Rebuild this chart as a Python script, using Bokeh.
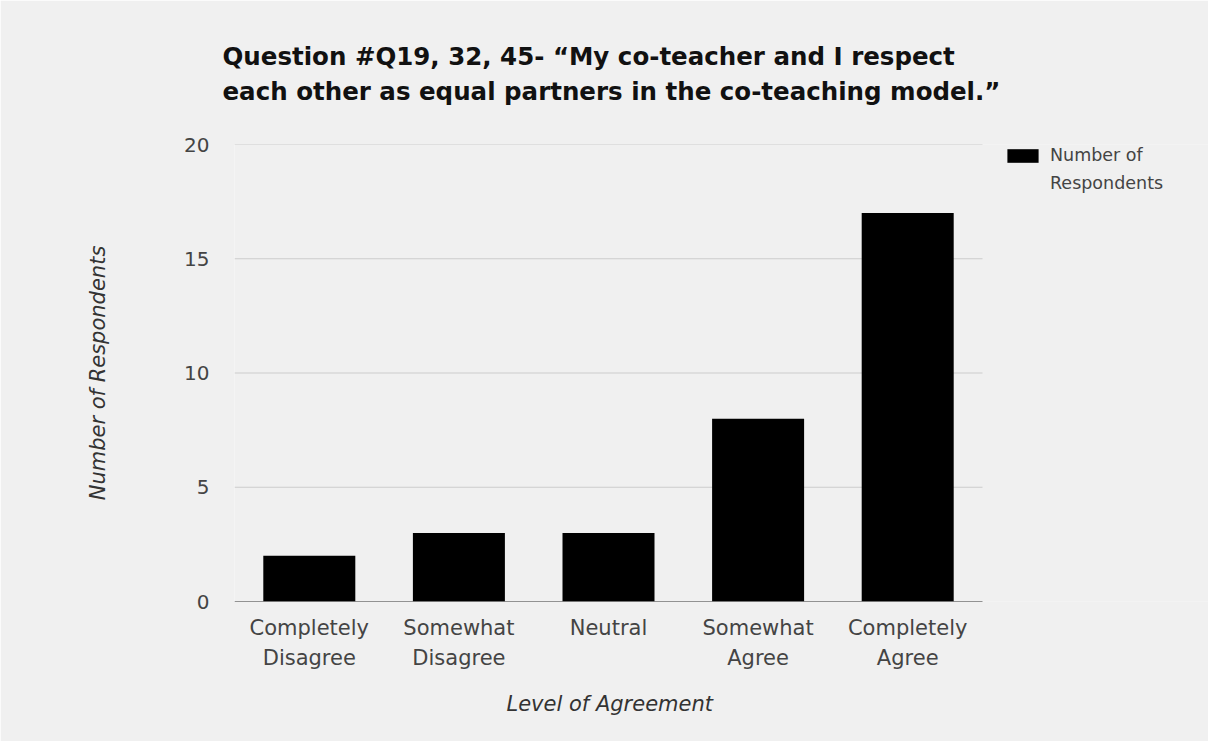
from bokeh.plotting import figure
from bokeh.models import Range1d, Title, Legend, LegendItem, FixedTicker
from bokeh.embed import file_html
from bokeh.resources import INLINE

categories = ["Completely\nDisagree", "Somewhat\nDisagree", "Neutral", "Somewhat\nAgree", "Completely\nAgree"]
respondents = [2, 3, 3, 8, 17]
y_ticks = [0, 5, 10, 15, 20]
title_text = ("Question #Q19, 32, 45- \u201cMy co-teacher and I respect\n"
              "each other as equal partners in the co-teaching model.\u201d")
x_title = "Level of Agreement"
y_title = "Number of Respondents"
series_name_lines = ["Number of", "Respondents"]

BG = "#f0f0f0"
FONT = "DejaVu Sans"

W, H = 1208, 741
LEFT, TOP, BOTTOM = 234, 144, 140
PLOT_W = 748  # width of the category area in pixels
n = len(categories)
x_end = n * (W - LEFT) / PLOT_W  # extend the x range so the legend fits inside the frame
xs = [i + 0.5 for i in range(n)]

p = figure(width=W, height=H, x_range=Range1d(0, x_end), y_range=Range1d(0, 20),
           output_backend="svg", toolbar_location=None,
           min_border_left=LEFT, min_border_right=0, min_border_top=TOP, min_border_bottom=BOTTOM)
p.background_fill_color = BG
p.border_fill_color = BG
p.outline_line_color = None

# gridlines and baseline span only the category area
p.segment(x0=[0] * len(y_ticks[1:]), x1=[n] * len(y_ticks[1:]), y0=y_ticks[1:], y1=y_ticks[1:],
          line_color="#cccccc", line_width=1)
r = p.vbar(x=xs, top=respondents, width=0.615, fill_color="#000000", line_color=None)
p.segment(x0=[0], x1=[n], y0=[y_ticks[0]], y1=[y_ticks[0]], line_color="#333333", line_width=1)
# empty renderer used only to carry the second line of the legend label
r_blank = p.vbar(x=[], top=[], width=0.615, fill_alpha=0, line_alpha=0)

p.xgrid.grid_line_color = None
p.ygrid.grid_line_color = None

p.yaxis.ticker = FixedTicker(ticks=y_ticks)
p.yaxis.axis_line_color = None
p.yaxis.major_tick_line_color = None
p.yaxis.minor_tick_line_color = None
p.yaxis.major_tick_out = 0
p.yaxis.major_label_standoff = 25
p.yaxis.major_label_text_font = FONT
p.yaxis.major_label_text_font_size = "20px"
p.yaxis.major_label_text_color = "#444444"
p.yaxis.axis_label = y_title
p.yaxis.axis_label_text_font = FONT
p.yaxis.axis_label_text_font_size = "21px"
p.yaxis.axis_label_text_font_style = "italic"
p.yaxis.axis_label_text_color = "#333333"
p.yaxis.axis_label_standoff = 71

p.xaxis.ticker = FixedTicker(ticks=xs)
p.xaxis.major_label_overrides = {x: c for x, c in zip(xs, categories)}
p.xaxis.axis_line_color = None
p.xaxis.major_tick_line_color = None
p.xaxis.minor_tick_line_color = None
p.xaxis.major_tick_out = 0
p.xaxis.major_label_standoff = 14
p.xaxis.major_label_text_font = FONT
p.xaxis.major_label_text_font_size = "21px"
p.xaxis.major_label_text_color = "#444444"
p.xaxis.major_label_text_line_height = 1.25

# x axis title, centred under the category area
p.add_layout(Title(text=x_title, align="left", offset=272, standoff=35,
                   text_font=FONT, text_font_size="21px", text_font_style="italic",
                   text_color="#333333"), "below")

p.add_layout(Title(text=title_text, align="left", offset=-12, standoff=77,
                   text_font=FONT, text_font_size="24.5px", text_font_style="bold",
                   text_color="#111111", text_line_height=1.2), "above")

legend = Legend(items=[LegendItem(label=series_name_lines[0], renderers=[r]),
                       LegendItem(label=series_name_lines[1], renderers=[r_blank])],
                location=(769, 408), padding=0, margin=0, spacing=8,
                glyph_width=39, glyph_height=17, label_height=20, label_standoff=8,
                label_text_font=FONT, label_text_font_size="17.5px", label_text_color="#444444",
                background_fill_alpha=0, border_line_alpha=0)
p.add_layout(legend)

open("out.html", "w").write(file_html(p, INLINE))
